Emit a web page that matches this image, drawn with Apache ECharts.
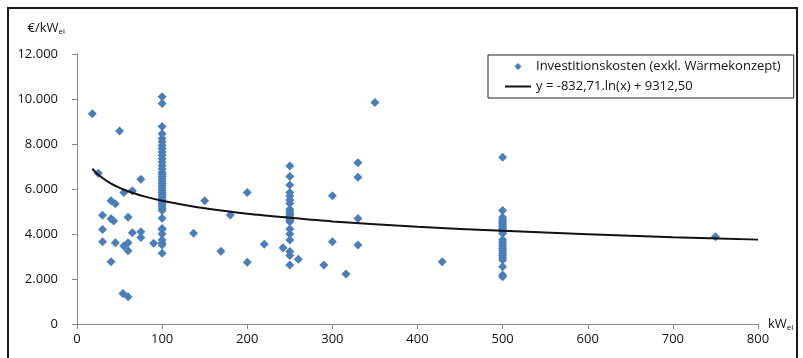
<!DOCTYPE html>
<html>
<head>
<meta charset="utf-8">
<script src="https://cdn.jsdelivr.net/npm/echarts@6/dist/echarts.min.js"></script>
<style>
  html, body { margin: 0; padding: 0; background: #fff; }
  #chart { width: 803px; height: 358px; }
</style>
</head>
<body>
<div id="chart"></div>
<script>
// einzelne Anlagen [kWel, €/kWel]
var singlePlants = [
  [18, 9350], [25, 6700], [50, 8580], [75, 6430], [65, 5920], [55, 5840], [40, 5480],
  [45, 5350], [30, 4830], [40, 4680], [43, 4580], [60, 4750], [30, 4200], [30, 3660],
  [40, 2770], [45, 3610], [55, 3470], [60, 3610], [60, 3260], [65, 4060], [75, 4100],
  [75, 3850], [90, 3590], [137, 4030], [54, 1360], [60, 1210], [150, 5480], [180, 4840],
  [200, 5850], [200, 2740], [169, 3230], [220, 3540], [242, 3390], [260, 2880],
  [290, 2620], [300, 5700], [300, 3660], [316, 2220], [330, 7170], [330, 6520],
  [330, 4690], [330, 3510], [350, 9850], [429, 2770], [750, 3880]
]
// Anlagen mit 100 / 250 / 500 kWel
var costs100 = [10100, 9800, 8780, 8460, 8250, 8100, 7950, 7800, 7650, 7500, 7350, 7200,
  7050, 6900, 6750, 6650, 6550, 6450, 6350, 6250, 6150, 6050, 5950, 5850, 5750, 5650,
  5550, 5450, 5350, 5250, 5150, 5050, 4700, 4250, 4200, 4000, 3730, 3600, 3510, 3140]
var costs250 = [7020, 6560, 6180, 5840, 5690, 5510, 5360, 5100, 5000, 4900, 4840, 4750,
  4680, 4600, 4550, 4220, 4000, 3730, 3220, 3040, 2620]
var costs500 = [7410, 5050, 4750, 4650, 4550, 4480, 4400, 4320, 4250, 4180, 4100, 4020,
  3750, 3650, 3550, 3450, 3350, 3250, 3150, 3050, 2950, 2850, 2550, 2180, 2100]

// Trendlinie
var trendX = [18, 25, 40, 60, 80, 100, 150, 200, 250, 300, 400, 500, 600, 700, 800]
var trendY = [6900, 6630, 6240, 5900, 5660, 5480, 5140, 4900, 4720, 4560, 4320, 4140, 3990, 3860, 3750]

var scatterName = 'Investitionskosten (exkl. Wärmekonzept)'
var trendName = 'y = -832,71.ln(x) + 9312,50'

var points = singlePlants.slice()
costs100.forEach(function(v) { points.push([100, v]) })
costs250.forEach(function(v) { points.push([250, v]) })
costs500.forEach(function(v) { points.push([500, v]) })
var trend = trendX.map(function(x, i) { return [x, trendY[i]] })

var font = 'Open Sans'
var axisColor = '#868686'
var textColor = '#111'
var fs = 13

var chart = echarts.init(document.getElementById('chart'))
chart.setOption({
  animation: false,
  textStyle: { fontFamily: font },
  grid: { left: 77, right: 45, top: 54, bottom: 34 },
  graphic: [{
    type: 'rect',
    shape: { x: 8, y: 8, width: 789, height: 400 },
    style: { fill: 'none', stroke: '#1a1a1a', lineWidth: 2 },
    silent: true
  }],
  legend: {
    orient: 'vertical',
    left: 488,
    top: 55,
    padding: [5, 13, 5, 17],
    itemWidth: 26,
    itemHeight: 7,
    itemGap: 7,
    symbolKeepAspect: true,
    borderColor: '#222',
    borderWidth: 1,
    backgroundColor: '#fff',
    textStyle: { fontSize: fs, color: textColor, fontFamily: font },
    data: [
      { name: scatterName, icon: 'path://M4,0 L8,4 L4,8 L0,4 Z' },
      { name: trendName, icon: 'path://M0,0 L26,0 L26,2 L0,2 Z' }
    ]
  },
  xAxis: {
    type: 'value',
    min: 0,
    max: 800,
    interval: 100,
    name: '{a|kW}{b|el}',
    nameLocation: 'end',
    nameGap: 10,
    nameTextStyle: {
      align: 'left',
      rich: {
        a: { fontSize: fs, color: textColor, fontFamily: font },
        b: { fontSize: 8, color: textColor, fontFamily: font, padding: [8, 0, 0, 0] }
      }
    },
    splitLine: { show: false },
    axisLine: { lineStyle: { color: axisColor } },
    axisTick: { length: 5, lineStyle: { color: axisColor } },
    axisLabel: { color: textColor, fontSize: fs, margin: 9 }
  },
  yAxis: {
    type: 'value',
    min: 0,
    max: 12000,
    interval: 2000,
    name: '{a|€/kW}{b|el}',
    nameLocation: 'end',
    nameGap: 18,
    nameTextStyle: {
      align: 'right',
      padding: [0, 12, 0, 0],
      rich: {
        a: { fontSize: fs, color: textColor, fontFamily: font },
        b: { fontSize: 8, color: textColor, fontFamily: font, padding: [8, 0, 0, 0] }
      }
    },
    splitLine: { show: false },
    axisLine: { show: true, lineStyle: { color: axisColor } },
    axisTick: { show: true, length: 5, lineStyle: { color: axisColor } },
    axisLabel: {
      color: textColor,
      fontSize: fs,
      margin: 19,
      formatter: function(v) {
        return String(v).replace(/\B(?=(\d{3})+(?!\d))/g, '.')
      }
    }
  },
  series: [
    {
      name: scatterName,
      type: 'scatter',
      symbol: 'diamond',
      symbolSize: 9,
      itemStyle: { color: '#4a7ebb', opacity: 1 },
      data: points
    },
    {
      name: trendName,
      type: 'line',
      showSymbol: false,
      symbol: 'none',
      smooth: 0.3,
      lineStyle: { color: textColor, width: 2 },
      itemStyle: { color: textColor },
      data: trend,
      z: 3
    }
  ]
})
</script>
</body>
</html>
